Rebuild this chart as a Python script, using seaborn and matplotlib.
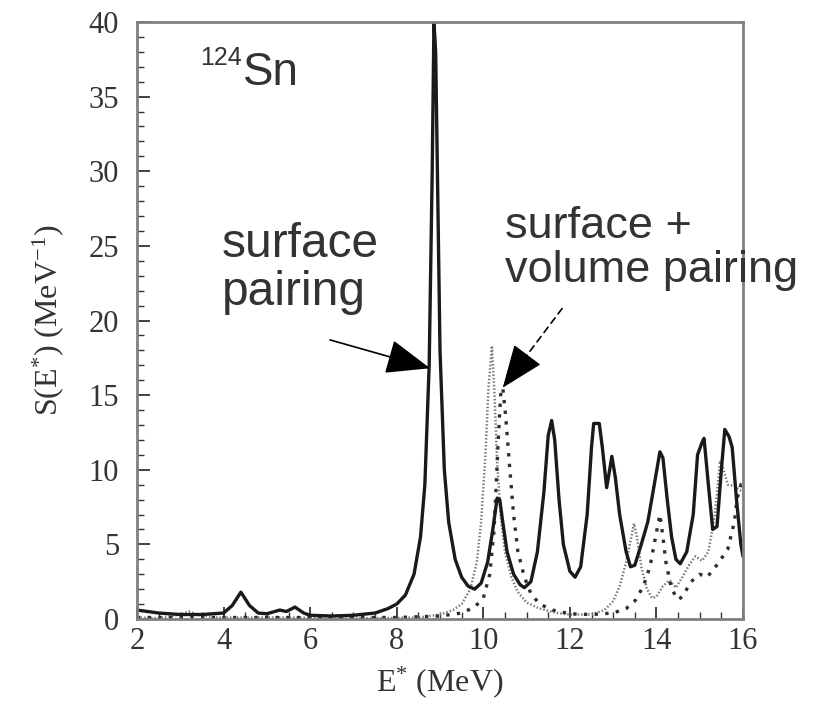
import numpy as np
import pandas as pd
import matplotlib
matplotlib.use("Agg")
import matplotlib.pyplot as plt
from matplotlib.ticker import MultipleLocator
import seaborn as sns

# ---- data ----
surf_E = [2.0, 2.5, 3.0, 3.5, 4.0, 4.2, 4.4, 4.6, 4.8, 5.0, 5.3, 5.45, 5.65, 5.85, 6.0, 6.5, 7.0, 7.5,
          7.8, 8.0, 8.2, 8.4, 8.55, 8.65, 8.75, 8.82, 8.86, 8.9, 8.95, 9.0, 9.1, 9.2, 9.35, 9.5, 9.65,
          9.8, 9.95, 10.1, 10.22, 10.32, 10.38, 10.45, 10.55, 10.7, 10.85, 10.95, 11.1, 11.25, 11.4,
          11.5, 11.58, 11.65, 11.75, 11.85, 12.0, 12.12, 12.25, 12.4, 12.5, 12.55, 12.68, 12.75, 12.85,
          12.92, 12.97, 13.05, 13.15, 13.3, 13.4, 13.5, 13.65, 13.8, 13.95, 14.08, 14.15, 14.25, 14.35,
          14.45, 14.55, 14.7, 14.85, 14.95, 15.05, 15.1, 15.2, 15.3, 15.4, 15.5, 15.58, 15.68, 15.75,
          15.85, 15.95, 16.0]
surf_S = [0.6, 0.4, 0.3, 0.3, 0.4, 0.9, 1.8, 0.9, 0.4, 0.35, 0.6, 0.5, 0.8, 0.4, 0.25, 0.2, 0.25, 0.4,
          0.7, 1.0, 1.6, 3.0, 5.5, 9.0, 17.0, 30.0, 40.0, 38.0, 28.0, 18.0, 10.0, 6.5, 4.0, 2.8, 2.2,
          2.0, 2.4, 3.8, 6.0, 8.1, 8.0, 6.5, 4.5, 3.0, 2.3, 2.1, 2.5, 4.5, 8.5,
          12.3, 13.3, 12.0, 8.0, 5.0, 3.2, 2.8, 3.5, 7.0, 11.5, 13.1, 13.1, 11.5, 8.8,
          10.0, 10.9, 9.5, 7.0, 4.5, 3.5, 3.6, 5.0, 6.5, 9.0, 11.2, 10.8, 8.0, 5.5,
          4.0, 3.7, 4.5, 7.0, 11.0, 11.8, 12.1, 9.0, 6.0, 6.2, 10.0, 12.7, 12.2, 11.5,
          8.0, 5.0, 4.2]

thin_E = [2.0, 2.5, 3.0, 3.2, 3.4, 3.8, 4.5, 5.5, 6.5, 7.5, 8.5, 9.0, 9.3, 9.5, 9.7, 9.85, 9.95,
          10.05, 10.12, 10.2, 10.26, 10.32, 10.4, 10.5, 10.65, 10.8, 11.0, 11.3, 11.7, 12.0, 12.5,
          12.8, 13.0, 13.15, 13.3, 13.42, 13.48, 13.55, 13.65, 13.78, 13.9, 14.0, 14.15, 14.3, 14.45,
          14.6, 14.75, 14.9, 15.05, 15.2, 15.35, 15.47, 15.55, 15.65, 15.8, 15.9, 16.0]
thin_S = [0.1, 0.05, 0.3, 0.5, 0.3, 0.1, 0.1, 0.1, 0.05, 0.05, 0.1, 0.3, 0.6, 1.0, 2.0, 3.8, 6.5,
          11.0, 15.5, 18.3, 15.0, 10.5, 7.0, 4.5, 2.8, 1.8, 1.1, 0.7, 0.4, 0.3, 0.3,
          0.6, 1.2, 2.2, 3.8, 5.5, 6.4, 5.5, 3.5, 2.0, 1.4, 1.5, 2.2, 2.6, 2.1,
          2.8, 3.6, 4.2, 3.9, 4.5, 7.0, 10.6, 10.0, 9.0, 8.9, 8.7, 8.5]

vol_E = [2.0, 3.0, 4.0, 5.0, 6.0, 7.0, 8.0, 9.0, 9.5, 9.8, 10.0, 10.15, 10.25, 10.33, 10.4, 10.45,
         10.52, 10.6, 10.7, 10.8, 10.95, 11.1, 11.3, 11.6, 12.0, 12.5, 13.0, 13.3, 13.5, 13.7, 13.85,
         13.98, 14.08, 14.15, 14.22, 14.27, 14.35, 14.5, 14.6, 14.8, 15.0, 15.17, 15.42, 15.65, 15.8,
         15.86, 15.95, 16.0]
vol_S = [0.1, 0.1, 0.1, 0.1, 0.1, 0.1, 0.1, 0.2, 0.4, 0.8, 1.4, 3.0, 6.0, 11.0, 15.0, 15.5,
         13.5, 10.5, 7.0, 4.5, 2.8, 1.7, 1.0, 0.6, 0.35, 0.3, 0.4, 0.7, 1.2, 2.2, 3.5,
         5.5, 7.0, 5.5, 3.8, 3.1, 2.0, 1.3, 1.5, 2.5, 3.0, 2.8, 3.7, 4.7, 6.5,
         8.0, 9.0, 9.0]

x_ticks = [2, 4, 6, 8, 10, 12, 14, 16]
y_ticks = [0, 5, 10, 15, 20, 25, 30, 35, 40]

# ---- figure ----
sns.set_theme(style="white")
plt.rcParams["font.family"] = ["Liberation Serif", "DejaVu Serif"]
plt.rcParams["mathtext.fontset"] = "custom"
plt.rcParams["mathtext.rm"] = "Liberation Serif"
plt.rcParams["mathtext.it"] = "Liberation Serif:italic"

fig = plt.figure(figsize=(8.35, 7.01), dpi=100)
ax = fig.add_axes([137/835, 1 - 619/701, (743-137)/835, (619-22)/701])

df_thin = pd.DataFrame({"E": thin_E, "S": thin_S})
df_vol = pd.DataFrame({"E": vol_E, "S": vol_S})
df_surf = pd.DataFrame({"E": surf_E, "S": surf_S})

sns.lineplot(data=df_thin, x="E", y="S", ax=ax, color="#7a7a7a", lw=1.8,
             linestyle=(0, (0.6, 0.8)), sort=False, estimator=None)
sns.lineplot(data=df_vol, x="E", y="S", ax=ax, color="#2e2e2e", lw=2.4,
             linestyle=(0, (1, 2.2)), sort=False, estimator=None)
sns.lineplot(data=df_surf, x="E", y="S", ax=ax, color="#1a1a1a", lw=2.4,
             sort=False, estimator=None)

ax.set_xlim(2, 16)
ax.set_ylim(0, 40)
ax.set_xticks(x_ticks)
ax.set_yticks(y_ticks)
ax.xaxis.set_minor_locator(MultipleLocator(0.5))
ax.yaxis.set_minor_locator(MultipleLocator(1))
ax.tick_params(axis="both", which="major", direction="in", length=9, width=1.3,
               color="#333333", labelsize=22, labelcolor="#333333", pad=6,
               bottom=True, left=True, top=False, right=False)
ax.tick_params(axis="both", which="minor", direction="in", length=5, width=1.0,
               color="#333333", bottom=True, left=True, top=False, right=False)
ax.tick_params(axis="y", which="major", pad=13)
for s in ax.spines.values():
    s.set_color("#808080")
    s.set_linewidth(2.0)

ax.set_xlabel("E$^{*}$ (MeV)", fontsize=23, color="#333333", labelpad=6)
ax.set_ylabel("S(E$^{*}$) (MeV$^{-1}$)", fontsize=23, color="#333333", labelpad=16)

sans = ["Liberation Sans", "DejaVu Sans"]
ax.text(3.46, 37.1, "124", fontsize=18, family=sans, color="#333333", ha="left", va="baseline")
ax.text(4.45, 35.8, "Sn", fontsize=33, family=sans, color="#333333", ha="left",
        va="baseline")
ax.text(3.96, 26.6, "surface\npairing", fontsize=34.5, family=sans, color="#333333",
        ha="left", va="top", linespacing=1.08)
ax.text(10.5, 27.7, "surface +\nvolume pairing", fontsize=32.5, family=sans, color="#333333",
        ha="left", va="top", linespacing=1.12)

head = "-|>,head_length=1.4,head_width=0.55"
ax.annotate("", xy=(8.77, 16.8), xytext=(6.46, 18.7),
            arrowprops=dict(arrowstyle=head, mutation_scale=20, lw=1.2, color="black",
                            shrinkA=0, shrinkB=0))
# dashed shaft + solid head for the second arrow
ax.annotate("", xy=(10.95, 17.45), xytext=(11.82, 20.8),
            arrowprops=dict(arrowstyle="-", lw=1.2, color="black", linestyle=(0, (4, 3)),
                            shrinkA=0, shrinkB=0))
ax.annotate("", xy=(10.45, 15.5), xytext=(11.0, 17.63),
            arrowprops=dict(arrowstyle=head, mutation_scale=20, lw=0.8, color="black",
                            shrinkA=0, shrinkB=0))

fig.savefig("out.png", dpi=100)
